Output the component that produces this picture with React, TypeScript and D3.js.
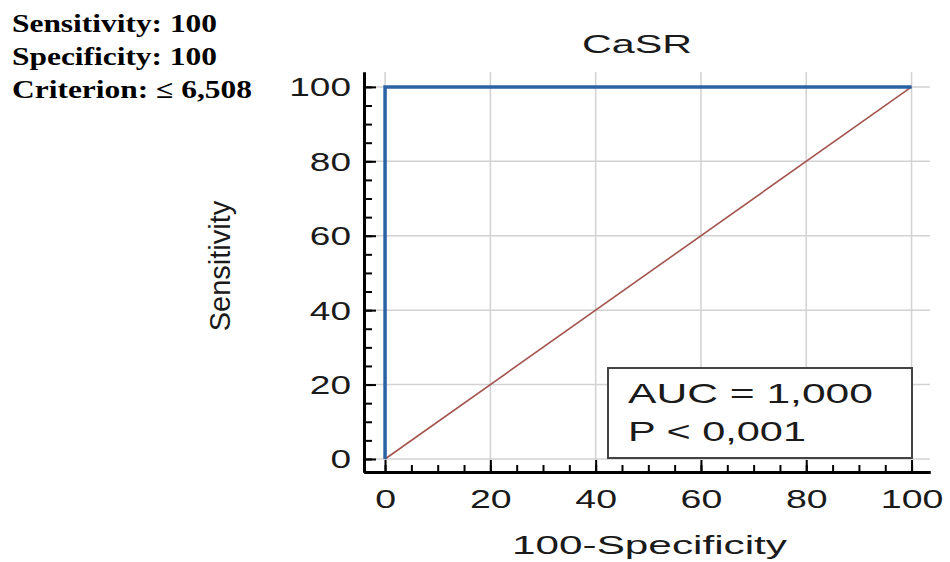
import * as d3 from "d3";
import React, {useRef, useEffect} from "react";

// ROC curve points (100-Specificity, Sensitivity)
const rocX = [0, 0, 100];
const rocY = [0, 100, 100];
// reference diagonal
const refX = [0, 100];
const refY = [0, 100];

const majorTicks = [0, 20, 40, 60, 80, 100];
const minorTicks = d3.range(0, 101, 5);

const title = "CaSR";
const xLabel = "100-Specificity";
const yLabel = "Sensitivity";
const statsLines = ["Sensitivity: 100", "Specificity: 100", "Criterion: \u2264 6,508"];
const boxLines = ["AUC = 1,000", "P < 0,001"];

function App() {

    const ref = useRef<SVGSVGElement>(null);

    useEffect(() => {

        const svg = d3.select(ref.current);
        svg.selectAll("*").remove();

        const sans = "Liberation Sans, Arial, sans-serif";
        const ink = "#1a1a1a";

        const x = d3.scaleLinear().domain([-4, 103.5]).range([364, 930]);
        const y = d3.scaleLinear().domain([-3.5, 104]).range([472, 72]);

        // grid
        const grid = svg.append("g").attr("class", "grid");
        grid.selectAll(".vgrid")
            .data(majorTicks)
            .enter().append("line")
            .attr("x1", d => x(d)).attr("x2", d => x(d))
            .attr("y1", y(104)).attr("y2", y(-3.5))
            .attr("stroke", "#d2d2d2")
            .attr("stroke-width", 1.5);
        grid.selectAll(".hgrid")
            .data(majorTicks)
            .enter().append("line")
            .attr("y1", d => y(d)).attr("y2", d => y(d))
            .attr("x1", x(-4)).attr("x2", x(103.5))
            .attr("stroke", "#d2d2d2")
            .attr("stroke-width", 1.5);

        // diagonal
        const line = d3.line<number>()
            .x((d, i) => x(refX[i]))
            .y((d, i) => y(refY[i]));
        svg.append("path")
            .attr("d", line(refX))
            .attr("fill", "none")
            .attr("stroke", "#a4544f")
            .attr("stroke-width", 1.6);

        // roc curve
        const roc = d3.line<number>()
            .x((d, i) => x(rocX[i]))
            .y((d, i) => y(rocY[i]));
        svg.append("path")
            .attr("d", roc(rocX))
            .attr("fill", "none")
            .attr("stroke", "#2a62a3")
            .attr("stroke-width", 3.5);

        // axes: minor ticks then major ticks, all pointing inwards
        const xMinor = d3.axisBottom(x).tickValues(minorTicks).tickFormat(() => "").tickSizeInner(-7).tickSizeOuter(0);
        const xMajor = d3.axisBottom(x).tickValues(majorTicks).tickSizeInner(-12).tickSizeOuter(0);
        const yMinor = d3.axisLeft(y).tickValues(minorTicks).tickFormat(() => "").tickSizeInner(-8).tickSizeOuter(0);
        const yMajor = d3.axisLeft(y).tickValues(majorTicks).tickSizeInner(-12).tickSizeOuter(0);

        const gx = svg.append("g").attr("transform", `translate(0, ${y(-3.5)})`);
        gx.append("g").call(xMinor);
        gx.append("g").call(xMajor);
        const gy = svg.append("g").attr("transform", `translate(${x(-4)}, 0)`);
        gy.append("g").call(yMinor);
        gy.append("g").call(yMajor);

        svg.selectAll(".domain")
            .attr("stroke", "#000")
            .attr("stroke-width", 3);
        svg.selectAll(".tick line")
            .attr("stroke", "#000")
            .attr("stroke-width", 2);

        gx.selectAll(".tick text")
            .attr("x", 0).attr("y", 0).attr("dy", null)
            .attr("transform", "translate(0, 36) scale(1.5, 1)")
            .attr("font-family", sans)
            .attr("font-size", 25)
            .attr("fill", ink);
        gy.selectAll(".tick text")
            .attr("x", 0).attr("y", 0).attr("dy", null)
            .attr("transform", "translate(-13, 9) scale(1.48, 1)")
            .attr("font-family", sans)
            .attr("font-size", 25)
            .attr("fill", ink);

        // AUC box
        const box = svg.append("g").attr("class", "auc-box");
        box.append("rect")
            .attr("x", 608).attr("y", 368)
            .attr("width", 304).attr("height", 90)
            .attr("fill", "#fff")
            .attr("stroke", "#444")
            .attr("stroke-width", 2);
        box.selectAll("text")
            .data(boxLines)
            .enter().append("text")
            .text(d => d)
            .attr("x", 628)
            .attr("y", (d, i) => 403 + i * 38)
            .attr("font-family", sans)
            .attr("font-size", 28)
            .attr("textLength", (d, i) => i === 0 ? 245 : 178)
            .attr("lengthAdjust", "spacingAndGlyphs")
            .attr("fill", ink);

        // title and axis labels
        svg.append("text")
            .text(title)
            .attr("x", 582).attr("y", 53)
            .attr("font-family", sans)
            .attr("font-size", 25)
            .attr("textLength", 110)
            .attr("lengthAdjust", "spacingAndGlyphs")
            .attr("fill", ink);

        svg.append("text")
            .text(xLabel)
            .attr("x", 512).attr("y", 554)
            .attr("font-family", sans)
            .attr("font-size", 26)
            .attr("textLength", 275)
            .attr("lengthAdjust", "spacingAndGlyphs")
            .attr("fill", ink);

        svg.append("text")
            .text(yLabel)
            .attr("transform", "translate(230, 266) rotate(-90)")
            .attr("text-anchor", "middle")
            .attr("font-family", sans)
            .attr("font-size", 29)
            .attr("fill", ink);

        // stats block at top left
        svg.append("g")
            .selectAll("text")
            .data(statsLines)
            .enter().append("text")
            .text(d => d)
            .attr("x", 12)
            .attr("y", (d, i) => 32 + i * 33)
            .attr("font-family", "Liberation Serif, Times New Roman, serif")
            .attr("font-weight", "bold")
            .attr("font-size", 25)
            .attr("textLength", (d, i) => i === 2 ? 240 : 205)
            .attr("lengthAdjust", "spacingAndGlyphs")
            .attr("fill", "#000");

    }, []);

    return (
        <svg ref={ref} width={950} height={562}
            style={{position: "absolute", left: 0, top: 0, background: "#fff"}} />
    );
}

export default App;
